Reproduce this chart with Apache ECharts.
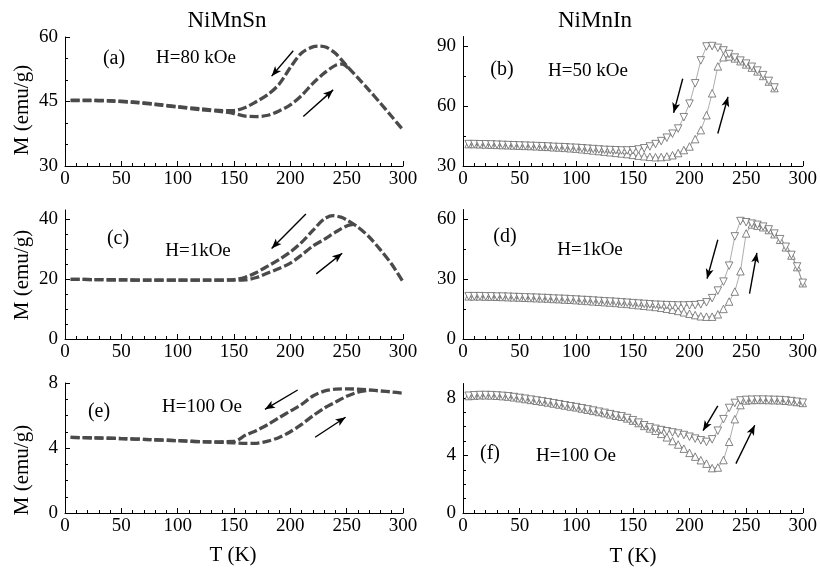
<!DOCTYPE html>
<html><head><meta charset="utf-8">
<script src="https://cdn.jsdelivr.net/npm/echarts@6/dist/echarts.min.js"></script>
<style>html,body{margin:0;padding:0;background:#fff}#c{width:820px;height:574px}</style>
</head><body><div id="c"></div>
<script>
// ---------- NiMnSn (left column, continuous curves) ----------
var aCoolT = [5,20,40,60,80,100,120,140,150,160,170,180,190,200,210,220,226,232,240,250,260,270,280,290,300];
var aCoolM = [45.3,45.3,45.2,44.9,44.4,43.8,43.3,42.9,42.9,43.6,45.0,46.6,49.0,52.9,56.3,57.7,57.9,57.6,56.2,53.3,50.5,47.6,44.6,41.5,38.4];
var aHeatT = [5,20,40,60,80,100,120,140,150,160,170,180,190,200,210,220,230,240,246,252];
var aHeatM = [45.2,45.2,45.1,44.8,44.3,43.7,43.1,42.6,42.2,41.6,41.5,41.8,42.8,44.2,46.4,49.2,51.6,53.4,53.7,52.6];

var cCoolT = [5,25,50,75,100,125,150,160,170,180,190,200,210,220,230,238,245,250,260,270,280,290,300];
var cCoolM = [19.9,19.8,19.7,19.6,19.6,19.6,19.8,20.6,22.2,24.3,26.5,29.0,32.2,36.2,40.0,41.1,40.6,39.7,37.3,34.0,29.7,24.9,19.1];
var cHeatT = [5,25,50,75,100,125,150,160,170,180,190,200,210,220,230,240,250,256];
var cHeatM = [19.9,19.8,19.7,19.6,19.6,19.6,19.6,19.7,20.5,22.0,23.5,25.3,28.0,31.0,33.2,35.6,37.7,38.2];

var eCoolT = [5,25,50,75,100,125,150,160,170,180,190,200,210,220,230,240,250,260,270,280,290,300];
var eCoolM = [4.65,4.62,4.58,4.52,4.45,4.38,4.40,4.78,5.08,5.44,5.87,6.27,6.68,7.20,7.50,7.62,7.64,7.62,7.57,7.51,7.45,7.37];
var eHeatT = [5,25,50,75,100,125,150,160,170,180,190,200,210,220,230,240,250,260,270];
var eHeatM = [4.65,4.62,4.58,4.52,4.45,4.38,4.32,4.28,4.29,4.42,4.65,5.00,5.45,5.98,6.45,6.82,7.18,7.44,7.56];

// ---------- NiMnIn (right column, triangle markers) ----------
var bT = [5,10,15,20,25,30,35,40,45,50,55,60,65,70,75,80,85,90,95,100,
          105,110,115,120,125,130,135,140,145,150,155,160,165,170,175,180,185,190,195,200,
          205,210,215,220,225,230,235,240,245,250,255,260,265,270,275];
var bCoolM = [41.0,41.0,40.9,40.9,40.8,40.7,40.6,40.5,40.4,40.3,40.2,40.1,40.0,39.9,39.8,39.6,39.5,39.4,39.2,39.1,
              38.9,38.7,38.5,38.3,38.1,38.0,37.9,37.8,37.8,37.9,38.3,38.9,39.8,41.0,42.5,44.2,46.2,48.8,54.5,61.3,
              71.5,83.0,90.0,90.2,89.3,88.0,86.2,84.4,82.9,81.4,79.8,77.9,75.6,72.7,69.4];
var bHeatM = [41.0,41.0,40.9,40.8,40.7,40.6,40.5,40.4,40.3,40.2,40.1,40.0,39.9,39.7,39.6,39.4,39.3,39.1,38.9,38.7,
              38.4,38.1,37.8,37.5,37.2,36.9,36.6,36.3,36.0,35.6,35.2,34.9,34.6,34.4,34.5,34.8,35.4,36.5,38.0,39.8,
              43.5,48.0,55.5,66.5,80.0,84.6,85.0,84.0,82.6,81.0,79.4,77.5,75.2,72.4,69.1];

var dT = [5,10,15,20,25,30,35,40,45,50,55,60,65,70,75,80,85,90,95,100,
          105,110,115,120,125,130,135,140,145,150,155,160,165,170,175,180,185,190,195,200,
          205,210,215,220,225,230,235,240,245,250,255,260,265,270,275,280,285,290,295,300];
var dCoolM = [21.5,21.5,21.5,21.4,21.4,21.3,21.3,21.2,21.1,21.0,20.9,20.8,20.7,20.6,20.5,20.3,20.2,20.1,19.9,19.8,
              19.6,19.5,19.3,19.1,18.9,18.8,18.6,18.4,18.2,18.0,17.8,17.6,17.4,17.2,17.1,17.0,16.9,16.8,16.8,16.9,
              17.0,17.4,18.4,20.5,24.3,28.8,36.8,51.5,59.2,58.6,57.9,57.3,56.4,55.0,52.9,50.1,46.3,42.2,36.4,28.2];
var dHeatM = [21.4,21.4,21.4,21.3,21.3,21.2,21.1,21.0,20.9,20.8,20.7,20.6,20.5,20.4,20.3,20.1,20.0,19.8,19.7,19.5,
              19.3,19.1,18.9,18.7,18.5,18.3,18.1,17.8,17.6,17.3,17.0,16.7,16.4,16.1,15.7,15.2,14.7,14.1,13.4,12.7,
              12.0,11.4,11.2,11.2,12.4,15.1,18.8,23.8,34.0,53.0,57.5,56.9,56.1,54.7,52.6,49.8,46.0,41.9,36.1,28.0];

var fT = dT;
var fCoolM = [8.15,8.18,8.20,8.20,8.19,8.17,8.14,8.11,8.06,8.00,7.94,7.88,7.82,7.76,7.70,7.63,7.56,7.49,7.42,7.36,
              7.28,7.20,7.12,7.04,6.96,6.87,6.78,6.72,6.60,6.45,6.28,6.10,5.95,5.85,5.76,5.68,5.60,5.52,5.42,5.30,
              5.17,5.05,4.94,5.12,5.72,6.52,7.30,7.65,7.82,7.86,7.87,7.88,7.88,7.87,7.86,7.85,7.82,7.78,7.73,7.67];
var fHeatM = [8.13,8.16,8.18,8.18,8.17,8.15,8.12,8.09,8.04,7.98,7.92,7.86,7.80,7.74,7.68,7.61,7.54,7.47,7.40,7.34,
              7.26,7.18,7.10,7.02,6.94,6.85,6.76,6.69,6.57,6.42,6.25,6.05,5.88,5.72,5.50,5.26,5.00,4.76,4.47,4.18,
              3.92,3.67,3.43,3.12,3.16,3.68,4.95,6.52,7.50,7.82,7.85,7.86,7.86,7.85,7.84,7.83,7.80,7.76,7.71,7.65];

// ---------- axes: ranges and tick values ----------
var xTicks = [0,50,100,150,200,250,300];
var yRange = [[30,60],[30,95],[0,43],[0,65],[0,8],[0,9]];
var yMajor = [[30,45,60],[30,60,90],[0,20,40],[0,30,60],[0,4,8],[0,4,8]];
var yMinor = [[35,40,50,55],[45,75],[5,10,15,25,30,35],[15,45],[1,2,3,5,6,7],[1,2,3,5,6,7]];

// ---------- annotations ----------
var panelTags = ['(a)','(b)','(c)','(d)','(e)','(f)'];
var fieldTags = ['H=80 kOe','H=50 kOe','H=1kOe','H=1kOe','H=100 Oe','H=100 Oe'];
var arrows = [
  [[[202.6,56.8],[183.4,50.9]], [[211.5,41.5],[238,47.7]]],
  [[[194,73.8],[186,56.7]], [[225,46.3],[234,64.7]]],
  [[[213.8,41.7],[183.4,30.2]], [[223,21.7],[246,28.6]]],
  [[[225,49.8],[215.5,30.3]], [[253,22.8],[259.5,43.2]]],
  [[[206.5,7.57],[177.5,6.38]], [[222,4.66],[249,5.89]]],
  [[[225,7.45],[212,5.72]], [[241,3.43],[257.6,6.1]]]
];

function pairs(T, M){ return T.map(function(t,i){ return [t, M[i]]; }); }

var FAM = 'Liberation Serif';
var grids = [
  {left:65, top:37, width:338, height:129},
  {left:463, top:36.5, width:340, height:129.5},
  {left:65, top:210, width:338, height:129},
  {left:463, top:209.5, width:340, height:129.5},
  {left:65, top:383, width:338, height:130},
  {left:463, top:383.5, width:340, height:129.5}
];

var xAxes = [], yAxes = [];
for (var i = 0; i < 6; i++) {
  xAxes.push({
    type:'value', gridIndex:i, min:0, max:300, interval:50,
    axisLine:{show:true, onZero:false, lineStyle:{color:'#000', width:1}},
    axisTick:{show:true, inside:true, length:5, lineStyle:{color:'#000'}},
    minorTick:{show:true, splitNumber:5, length:3, lineStyle:{color:'#000'}},
    axisLabel:{fontFamily:FAM, fontSize:19, color:'#000', margin:4},
    splitLine:{show:false}
  });
}
for (var i = 0; i < 6; i++) {
  yAxes.push({
    type:'value', gridIndex:i, min:yRange[i][0], max:yRange[i][1], position:'left',
    axisLine:{show:true, onZero:false, lineStyle:{color:'#000', width:1}},
    axisTick:{show:true, inside:true, length:5, customValues:yMajor[i], lineStyle:{color:'#000'}},
    axisLabel:{fontFamily:FAM, fontSize:19, color:'#000', margin:7, customValues:yMajor[i]},
    splitLine:{show:false}
  });
}
for (var i = 0; i < 6; i++) {
  yAxes.push({
    type:'value', gridIndex:i, min:yRange[i][0], max:yRange[i][1], position:'left', offset:0,
    axisLine:{show:false},
    axisTick:{show:true, inside:true, length:3, customValues:yMinor[i], lineStyle:{color:'#000'}},
    axisLabel:{show:false},
    splitLine:{show:false}
  });
}

function arrowMark(i){
  return {
    silent:true, animation:false, symbol:['none','arrow'], symbolSize:[6,10],
    label:{show:false}, emphasis:{disabled:true},
    lineStyle:{color:'#000', width:1.4, type:'solid'},
    data: arrows[i].map(function(a){ return [{coord:a[0]},{coord:a[1]}]; })
  };
}

function dashSeries(i, T, M, withArrows){
  var s = {
    type:'line', xAxisIndex:i, yAxisIndex:i, data:pairs(T,M), smooth:0.3,
    showSymbol:false, symbol:'none', silent:true,
    lineStyle:{color:'#4a4a4a', width:3.3, type:[9,3]}
  };
  if (withArrows) s.markLine = arrowMark(i);
  return s;
}
function triSeries(i, T, M, down, withArrows){
  var s = {
    type:'line', xAxisIndex:i, yAxisIndex:i, data:pairs(T,M), silent:true,
    symbol:'triangle', symbolSize:7.5, symbolRotate: down ? 180 : 0, showSymbol:true,
    itemStyle:{color:'#fff', borderColor:'#666', borderWidth:0.8},
    lineStyle:{color:'#8a8a8a', width:0.7}
  };
  if (withArrows) s.markLine = arrowMark(i);
  return s;
}

var series = [
  dashSeries(0, aCoolT, aCoolM, true), dashSeries(0, aHeatT, aHeatM, false),
  dashSeries(2, cCoolT, cCoolM, true), dashSeries(2, cHeatT, cHeatM, false),
  dashSeries(4, eCoolT, eCoolM, true), dashSeries(4, eHeatT, eHeatM, false),
  triSeries(1, bT, bHeatM, false, false), triSeries(1, bT, bCoolM, true, true),
  triSeries(3, dT, dHeatM, false, false), triSeries(3, dT, dCoolM, true, true),
  triSeries(5, fT, fHeatM, false, false), triSeries(5, fT, fCoolM, true, true)
];

function txt(s, x, y, size, rot){
  var e = {type:'text', x:x, y:y, silent:true,
    style:{text:s, font:size+'px "Liberation Serif"', fill:'#000', align:'center', verticalAlign:'middle',
           textAlign:'center', textVerticalAlign:'middle'}};
  if (rot) e.rotation = rot;
  return e;
}
var tagPos = [[114,59],[502,70],[118,239],[505,237],[99,412],[490,454]];
var fieldPos = [[196,58],[588,71],[198,251],[590,250],[202,407],[576,456]];
var graphics = [
  txt('NiMnSn', 227, 21, 23), txt('NiMnIn', 595, 21, 23),
  txt('M (emu/g)', 22, 110, 21, Math.PI/2),
  txt('M (emu/g)', 22, 275, 21, Math.PI/2),
  txt('M (emu/g)', 22, 470, 21, Math.PI/2),
  txt('T (K)', 233, 555, 21), txt('T (K)', 633, 556, 21)
];
for (var i = 0; i < 6; i++) {
  graphics.push(txt(panelTags[i], tagPos[i][0], tagPos[i][1], 20));
  graphics.push(txt(fieldTags[i], fieldPos[i][0], fieldPos[i][1], 19));
}

var chart = echarts.init(document.getElementById('c'), null, {renderer:'canvas'});
chart.setOption({
  animation:false,
  backgroundColor:'#fff',
  textStyle:{fontFamily:FAM},
  grid:grids, xAxis:xAxes, yAxis:yAxes, series:series, graphic:graphics
});
</script>
</body></html>
